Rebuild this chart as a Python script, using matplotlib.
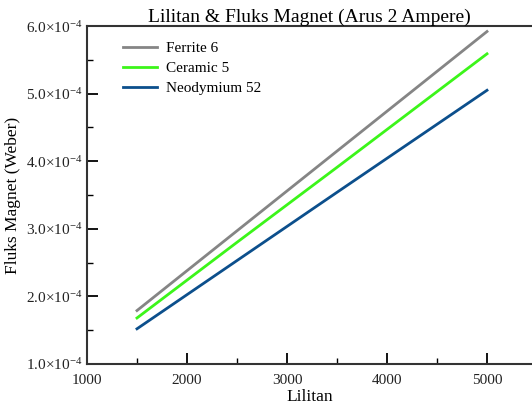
import matplotlib
matplotlib.use("Agg")
import matplotlib.pyplot as plt
from matplotlib.ticker import FuncFormatter, MultipleLocator

plt.rcParams['font.family'] = ['Liberation Serif', 'DejaVu Serif']
plt.rcParams['mathtext.fontset'] = 'stix'

# data
lilitan = [1500, 2500, 3500, 5000]
ferrite = [1.79e-4, 2.97e-4, 4.15e-4, 5.92e-4]
ceramic = [1.68e-4, 2.80e-4, 3.91e-4, 5.59e-4]
neodym = [1.52e-4, 2.53e-4, 3.54e-4, 5.05e-4]
labels = ['Ferrite 6', 'Ceramic 5', 'Neodymium 52']
colors = ['#858585', '#3cf51a', '#0c4f8c']

fig = plt.figure(figsize=(5.32, 4.08), dpi=100)
ax = fig.add_axes([0.1635, 0.108, 0.8365, 0.828])

for ys, lab, c in zip([ferrite, ceramic, neodym], labels, colors):
    ax.plot(lilitan, ys, color=c, linewidth=2, label=lab)

ax.set_xlim(1000, 5450)
ax.set_ylim(1.0e-4, 6.0e-4)
ax.xaxis.set_major_locator(MultipleLocator(1000))
ax.xaxis.set_minor_locator(MultipleLocator(500))
ax.yaxis.set_major_locator(MultipleLocator(1e-4))
ax.yaxis.set_minor_locator(MultipleLocator(0.5e-4))

def sci(v, pos):
    return r'$\mathregular{%.1f{\times}10^{-4}}$' % (v / 1e-4)

ax.yaxis.set_major_formatter(FuncFormatter(sci))

ax.tick_params(which='major', direction='in', length=8, width=1.3, labelsize=11,
               labelcolor='#222222')
ax.tick_params(which='minor', direction='in', length=4.5, width=1.0)
ax.tick_params(axis='x', pad=7)

for s in ['left', 'bottom', 'top']:
    ax.spines[s].set_linewidth(1.5)
    ax.spines[s].set_color('#333333')
ax.spines['right'].set_visible(False)

ax.set_xlabel('Lilitan', fontsize=12.5, labelpad=2)
ax.set_ylabel('Fluks Magnet (Weber)', fontsize=12.5)
ax.yaxis.set_label_coords(-0.148, 0.5)
ax.set_title('Lilitan & Fluks Magnet (Arus 2 Ampere)', fontsize=14, pad=3)

ax.legend(loc='upper left', frameon=False, fontsize=11, handlelength=2.2,
          bbox_to_anchor=(0.05, 0.995), labelspacing=0.4, handletextpad=0.6)

plt.savefig('out.png', dpi=100)
